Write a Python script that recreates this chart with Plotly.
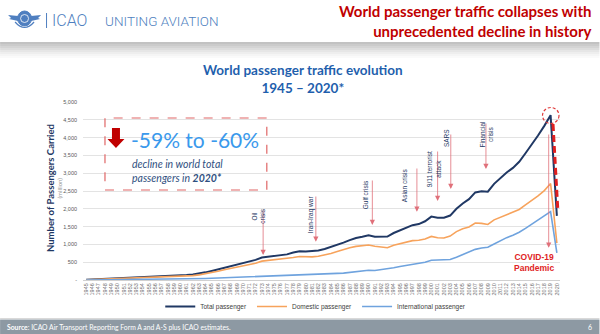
import plotly.graph_objects as go

# ---------------- data ----------------
years = list(range(1945, 2021))
total = [10, 18, 22, 26, 30, 34, 42, 50, 58, 66, 76, 86, 98, 104, 118, 130, 140, 155, 180, 215,
         255, 300, 350, 395, 440, 475, 510, 565, 630, 655, 675, 700, 720, 770, 810, 800, 805, 830, 870, 925,
         985, 1050, 1120, 1180, 1215, 1255, 1215, 1220, 1220, 1320, 1400, 1480, 1540, 1570, 1650,
         1780, 1750, 1750, 1810, 2000, 2150, 2270, 2460, 2490, 2480, 2700, 2870, 3020, 3150, 3320,
         3560, 3800, 4060, 4330, 4630, 1800]
domestic = [8, 15, 18, 21, 24, 27, 34, 41, 47, 54, 62, 70, 80, 85, 96, 105, 112, 123, 144, 173,
            207, 246, 290, 329, 368, 397, 426, 473, 530, 549, 563, 580, 592, 632, 662, 648, 649, 667, 700, 747,
            799, 856, 905, 945, 960, 983, 947, 930, 905, 975, 1020, 1070, 1105, 1115, 1150,
            1225, 1185, 1180, 1235, 1360, 1440, 1490, 1600, 1590, 1560, 1690, 1760, 1830, 1890, 1980,
            2110, 2230, 2360, 2510, 2710, 1040]
international = [2, 3, 4, 5, 6, 7, 8, 9, 11, 12, 14, 16, 18, 19, 22, 25, 28, 32, 36, 42,
                 48, 54, 60, 66, 72, 78, 84, 92, 100, 106, 112, 120, 128, 138, 148, 152, 156, 163, 170, 178,
                 186, 194, 215, 235, 255, 272, 268, 290, 315, 345, 380, 410, 435, 455, 500,
                 555, 565, 570, 575, 640, 710, 780, 860, 900, 920, 1010, 1110, 1190, 1260, 1340,
                 1450, 1570, 1700, 1820, 1920, 760]
series_names = ["Total passenger", "Domestic passenger", "International passenger"]
y_ticks = [0, 500, 1000, 1500, 2000, 2500, 3000, 3500, 4000, 4500, 5000]
y_tick_text = ["-", "500", "1,000", "1,500", "2,000", "2,500", "3,000", "3,500", "4,000", "4,500", "5,000"]
crisis_labels = ["Oil<br>crisis", "Iran-Iraq war", "Gulf crisis", "Asian crisis",
                 "9/11 terrorist<br>attack", "SARS", "Financial<br>crisis"]
crisis_years = [1973.2, 1981.6, 1990.6, 1997.7, 2001.0, 2003.1, 2008.7]

# ---------------- geometry helpers (page pixels -> paper) ----------------
W, H = 600, 334
L, R, T, B = 83, 560.5, 102, 280


def px(x):
    return (x - L) / (R - L)


def py(y):
    return (B - y) / (B - T)


def val(y):
    return (B - y) / (B - T) * 5000


NAVY = "#1F3864"
fig = go.Figure()
colors = ["#203864", "#F7A35C", "#6FA3DE"]
widths = [2, 1.6, 1.6]
for name, ys, c, w in zip(series_names, [total, domestic, international], colors, widths):
    fig.add_trace(go.Scatter(x=years, y=ys, mode="lines", name=name,
                             line=dict(color=c, width=w)))

shapes = []
annotations = []

# header gradient band
band = ["#C2C2C2", "#CBCBCB", "#D4D4D4", "#DDDDDD", "#E6E6E6", "#EEEEEE", "#F5F5F5", "#FAFAFA"]
for i, c in enumerate(band):
    shapes.append(dict(type="rect", xref="paper", yref="paper", x0=px(0), x1=px(600),
                       y0=py(42 + 2 * i + 2), y1=py(42 + 2 * i), fillcolor=c, line=dict(width=0),
                       layer="below"))

# footer
shapes.append(dict(type="rect", xref="paper", yref="paper", x0=px(0), x1=px(600),
                   y0=py(334), y1=py(319.5), fillcolor="#8D99A3", line=dict(width=0)))
shapes.append(dict(type="line", xref="paper", yref="paper", x0=px(0), x1=px(600),
                   y0=py(318.5), y1=py(318.5), line=dict(color="#D9D9D9", width=1)))

# logo (simplified emblem)
LB = "#4F7FC0"
shapes.append(dict(type="circle", xref="paper", yref="paper", x0=px(17.5), x1=px(31.5),
                   y0=py(26), y1=py(11), fillcolor=LB, line=dict(color=LB, width=1)))
shapes.append(dict(type="circle", xref="paper", yref="paper", x0=px(20.5), x1=px(28.5),
                   y0=py(22.5), y1=py(14.5), fillcolor="rgba(0,0,0,0)", line=dict(color="white", width=0.8)))


def path(points):
    return "M " + " L ".join(f"{px(a):.5f},{py(b):.5f}" for a, b in points) + " Z"


shapes.append(dict(type="path", xref="paper", yref="paper",
                   path=path([(18, 16), (8, 15), (11, 18), (9, 19), (18, 21)]),
                   fillcolor=LB, line=dict(width=0)))
shapes.append(dict(type="path", xref="paper", yref="paper",
                   path=path([(31, 16), (41, 15), (38, 18), (40, 19), (31, 21)]),
                   fillcolor=LB, line=dict(width=0)))
shapes.append(dict(type="path", xref="paper", yref="paper",
                   path="M %f,%f Q %f,%f %f,%f" % (px(15), py(22), px(24.5), py(33), px(34), py(22)),
                   line=dict(color=LB, width=1.2)))
shapes.append(dict(type="line", xref="paper", yref="paper", x0=px(46.5), x1=px(46.5),
                   y0=py(28), y1=py(13), line=dict(color=LB, width=1)))
annotations.append(dict(xref="paper", yref="paper", x=px(50), y=py(20.5), xanchor="left", yanchor="middle",
                        text="ICAO", showarrow=False,
                        font=dict(family="Roboto", size=16, color=LB, weight=300)))
annotations.append(dict(xref="paper", yref="paper", x=px(103), y=py(20.5), xanchor="left", yanchor="middle",
                        text="UNITING AVIATION", showarrow=False,
                        font=dict(family="Roboto", size=13.5, color=LB, weight=300)))

# red headline
annotations.append(dict(xref="paper", yref="paper", x=px(595), y=py(21), xanchor="right", yanchor="middle",
                        text="World passenger traffic collapses with<br>unprecedented decline in history",
                        align="right", showarrow=False,
                        font=dict(family="Lato", size=15, color="#C00000", weight=700)))

# chart title
annotations.append(dict(xref="paper", yref="paper", x=px(303), y=py(78.5), xanchor="center", yanchor="middle",
                        text="World passenger traffic evolution<br>1945 \u2013 2020*", align="center",
                        showarrow=False, font=dict(family="Lato", size=13.5, color="#1F5FAD", weight=700)))

# y-axis titles
annotations.append(dict(xref="paper", yref="paper", x=px(42.5), y=py(188), textangle=-90,
                        text="<b>Number of Passengers Carried</b>", showarrow=False,
                        font=dict(family="Lato", size=9.5, color=NAVY)))
annotations.append(dict(xref="paper", yref="paper", x=px(53), y=py(188), textangle=-90,
                        text="(million)", showarrow=False,
                        font=dict(family="Lato", size=6, color="#9A9A9A")))

# dashed callout box
shapes.append(dict(type="rect", xref="paper", yref="paper", x0=px(105), x1=px(267),
                   y0=py(190), y1=py(118), line=dict(color="#E06666", width=1.2, dash="dash")))
shapes.append(dict(type="path", xref="paper", yref="paper",
                   path=path([(112, 128), (120, 128), (120, 139), (124.5, 139), (116, 148),
                              (107.5, 139), (112, 139)]),
                   fillcolor="#C00000", line=dict(width=0)))
annotations.append(dict(xref="paper", yref="paper", x=px(129), y=py(139), xanchor="left", yanchor="middle",
                        text="-59% to -60%", showarrow=False,
                        font=dict(family="Lato", size=21, color="#3A99EC", weight=400)))
annotations.append(dict(xref="paper", yref="paper", x=px(130), y=py(170.5), xanchor="left", yanchor="middle",
                        text="<i>decline in world total<br>passengers in <b>2020*</b></i>", align="left",
                        showarrow=False, font=dict(family="Lato", size=10.5, color="#2F4F80")))

# crisis annotations
text_pos = [(258, 216), (311.5, 214), (365.5, 195), (404.5, 185), (433.5, 169), (446.5, 138), (486.5, 134.5)]
heads = [255, 241.7, 225, 211.7, 201, 189, 169]
tops = [209, 195, 179, 167, 150, 133, 122]
for lab, yr, (tx, ty), hy, ty0 in zip(crisis_labels, crisis_years, text_pos, heads, tops):
    annotations.append(dict(x=yr, y=val(hy), xref="x", yref="y", ax=0, ay=-(hy - ty0), text="",
                            showarrow=True, arrowhead=2, arrowsize=1.3, arrowwidth=0.8,
                            arrowcolor="#E0707A"))
    annotations.append(dict(xref="paper", yref="paper", x=px(tx), y=py(ty), textangle=-90,
                            xanchor="center", yanchor="middle", text=lab, showarrow=False,
                            font=dict(family="Liberation Sans", size=6.5, color=NAVY)))

# COVID
annotations.append(dict(x=2018.7, y=val(247.7), xref="x", yref="y", ax=0, ay=-(247.7 - 133), text="",
                        showarrow=True, arrowhead=2, arrowsize=1.3, arrowwidth=0.8, arrowcolor="#E0707A"))
annotations.append(dict(xref="paper", yref="paper", x=px(534), y=py(262), xanchor="center", yanchor="middle",
                        text="<b>COVID-19<br>Pandemic</b>", showarrow=False, align="center",
                        font=dict(family="Liberation Sans", size=8.5, color="#E02424")))
shapes.append(dict(type="circle", xref="paper", yref="paper", x0=px(543), x1=px(559.5),
                   y0=py(123.5), y1=py(107.5), line=dict(color="#E03A3A", width=1.2, dash="3px,2px")))
shapes.append(dict(type="line", xref="paper", yref="paper", x0=px(553.5), x1=px(558.3),
                   y0=py(124), y1=py(210), line=dict(color="#E02020", width=3, dash="7px,4px")))

# footer texts
annotations.append(dict(xref="paper", yref="paper", x=px(5), y=py(327), xanchor="left", yanchor="middle",
                        text="<b>Source</b>: ICAO Air Transport Reporting Form A and A-S plus ICAO estimates.",
                        showarrow=False, font=dict(family="Lato", size=6.8, color="white")))
annotations.append(dict(xref="paper", yref="paper", x=px(591), y=py(327), xanchor="center", yanchor="middle",
                        text="6", showarrow=False, font=dict(family="Lato", size=7, color="white")))

fig.update_layout(
    width=W, height=H,
    margin=dict(l=L, r=W - R, t=T, b=H - B, pad=0),
    paper_bgcolor="white", plot_bgcolor="white",
    font=dict(family="Liberation Sans", color="#595959"),
    shapes=shapes, annotations=annotations,
    showlegend=True,
    legend=dict(orientation="h", x=px(316), xanchor="center", y=py(306.5), yanchor="middle",
                font=dict(family="Liberation Sans", size=6.5, color="#404040"),
                itemwidth=30, tracegroupgap=0, bgcolor="rgba(0,0,0,0)"),
    xaxis=dict(range=[1944.5, 2020.5], tickmode="array", tickvals=years, ticktext=[str(y) for y in years],
               tickangle=-90, tickfont=dict(size=5.5, color="#707070"), showgrid=False,
               showline=True, linecolor="#D0D0D0", linewidth=1, ticks="", zeroline=False, fixedrange=True),
    yaxis=dict(range=[0, 5000], tickmode="array", tickvals=y_ticks, ticktext=y_tick_text,
               tickfont=dict(size=5.5, color="#595959"), showgrid=True, gridcolor="#E3E3E3", gridwidth=1,
               zeroline=False, showline=False, ticks="", ticklabelstandoff=5, fixedrange=True),
)

fig.write_html("out.html", config={"displayModeBar": False})
